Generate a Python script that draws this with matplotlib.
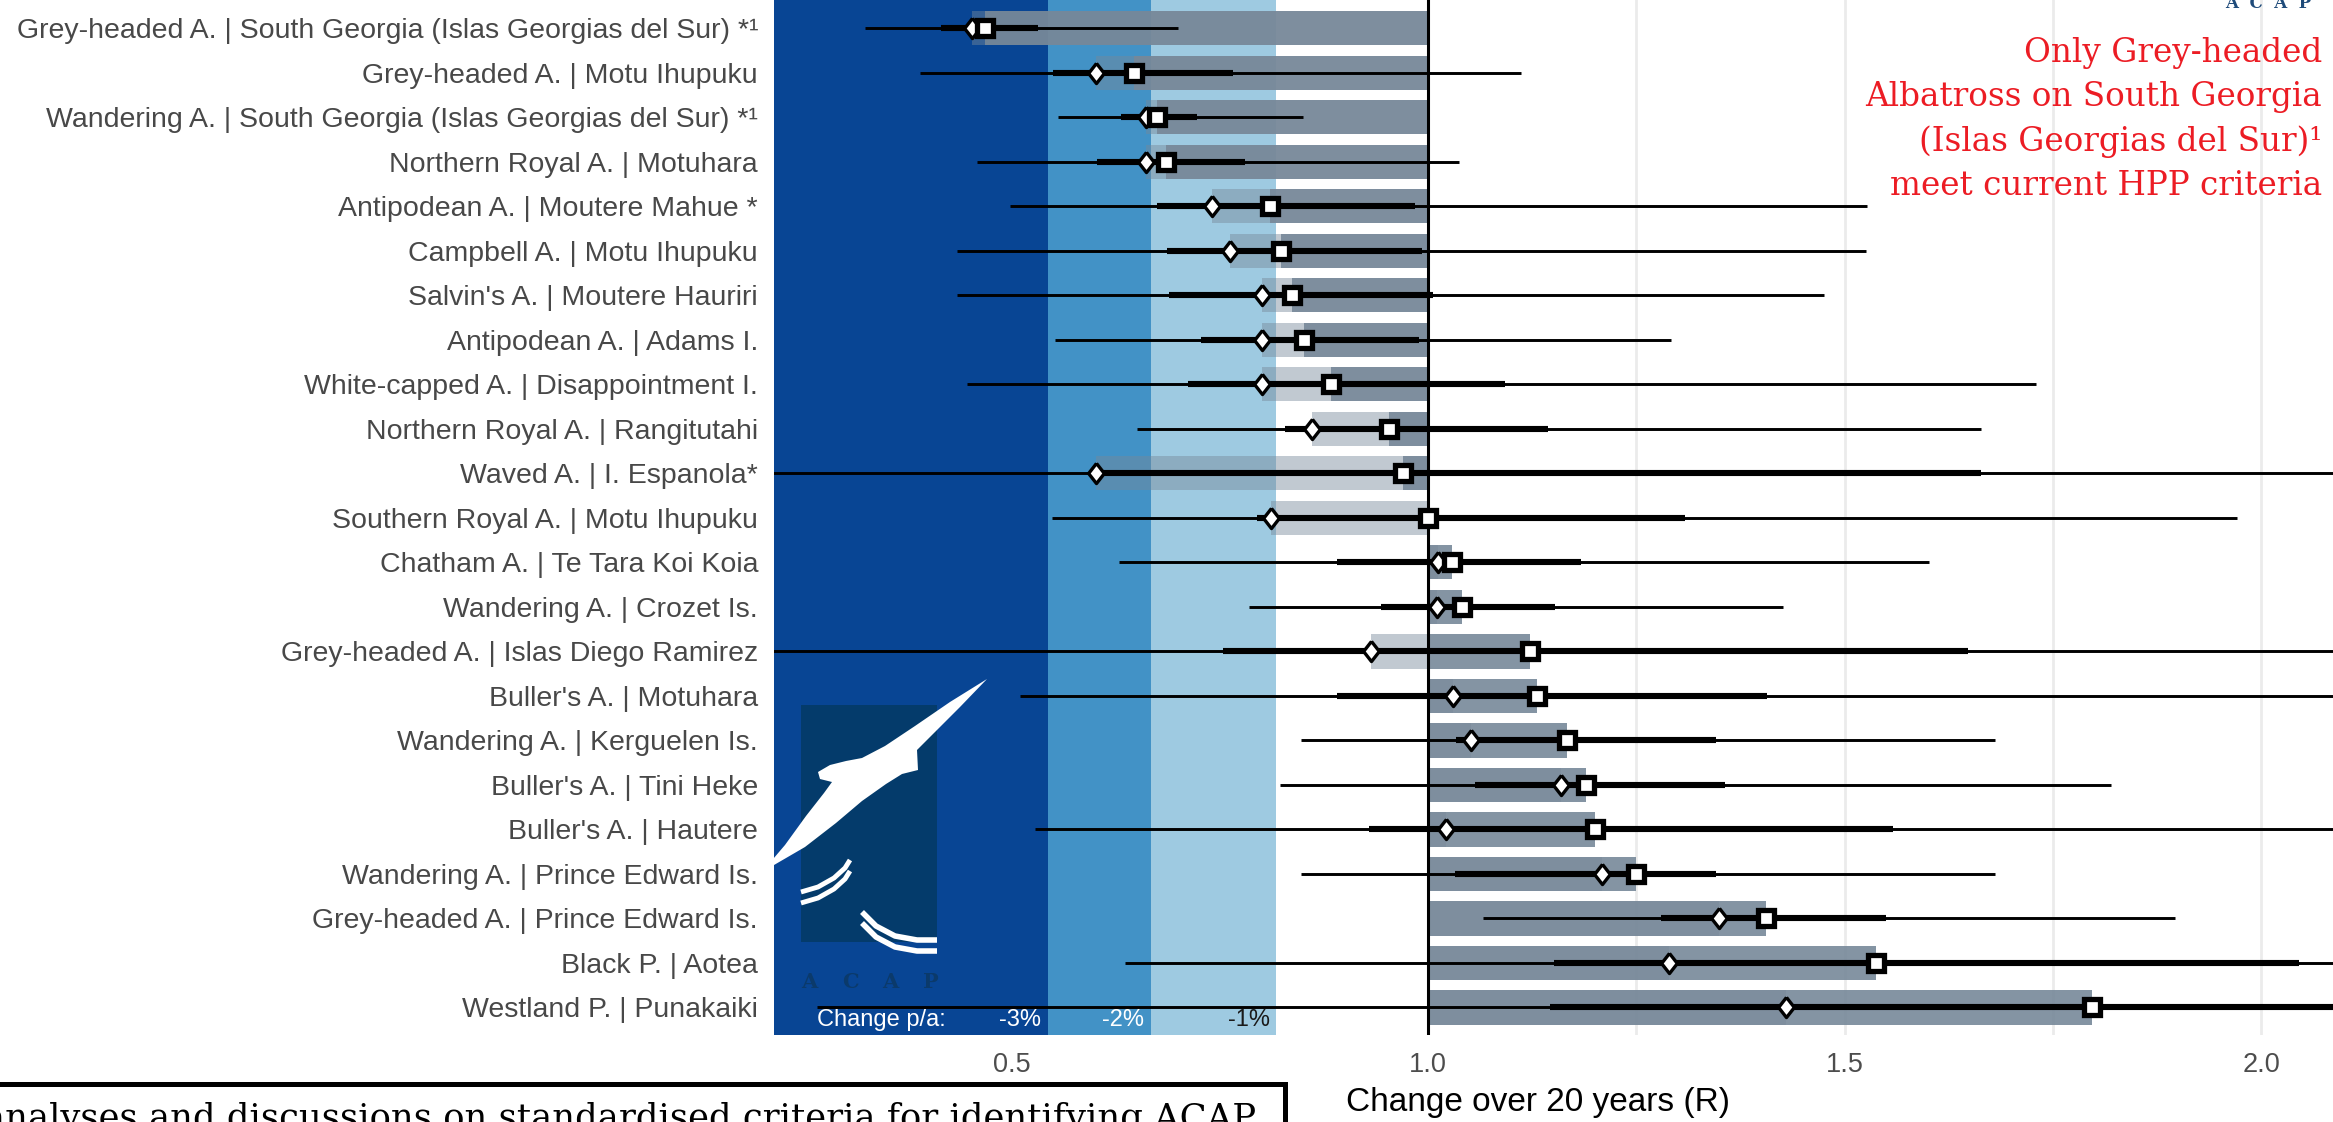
"""
Population trend chart (change over 20 years) for ACAP breeding sites
"""

import matplotlib
matplotlib.use("Agg")
import numpy as np
import matplotlib.pyplot as plt
from matplotlib.patches import Rectangle, Polygon
from matplotlib.transforms import Affine2D

# --- data, top row first ---
labels = [
    "Grey-headed A. | South Georgia (Islas Georgias del Sur) *¹",
    "Grey-headed A. | Motu Ihupuku",
    "Wandering A. | South Georgia (Islas Georgias del Sur) *¹",
    "Northern Royal A. | Motuhara",
    "Antipodean A. | Moutere Mahue *",
    "Campbell A. | Motu Ihupuku",
    "Salvin's A. | Moutere Hauriri",
    "Antipodean A. | Adams I.",
    "White-capped A. | Disappointment I.",
    "Northern Royal A. | Rangitutahi",
    "Waved A. | I. Espanola*",
    "Southern Royal A. | Motu Ihupuku",
    "Chatham A. | Te Tara Koi Koia",
    "Wandering A. | Crozet Is.",
    "Grey-headed A. | Islas Diego Ramirez",
    "Buller's A. | Motuhara",
    "Wandering A. | Kerguelen Is.",
    "Buller's A. | Tini Heke",
    "Buller's A. | Hautere",
    "Wandering A. | Prince Edward Is.",
    "Grey-headed A. | Prince Edward Is.",
    "Black P. | Aotea",
    "Westland P. | Punakaiki",
]

# diamond and square point estimates
diamond = [0.452, 0.601, 0.661, 0.661, 0.740, 0.762, 0.801, 0.801, 0.801, 0.861,
           0.601, 0.811, 1.012, 1.011, 0.931, 1.030, 1.051, 1.159, 1.021, 1.209,
           1.349, 1.289, 1.430]
square = [0.468, 0.647, 0.674, 0.685, 0.810, 0.823, 0.836, 0.851, 0.883, 0.953,
          0.970, 1.000, 1.028, 1.041, 1.122, 1.130, 1.167, 1.190, 1.200, 1.249,
          1.405, 1.537, 1.797]

# thin interval (outer) and thick interval (inner)
lo_outer = [0.324, 0.390, 0.556, 0.458, 0.498, 0.435, 0.434, 0.552, 0.447, 0.650,
            0.100, 0.549, 0.629, 0.785, 0.100, 0.510, 0.847, 0.822, 0.528, 0.847,
            1.066, 0.636, 0.267]
hi_outer = [0.700, 1.111, 0.850, 1.037, 1.527, 1.525, 1.475, 1.291, 1.729, 1.663,
            2.300, 1.971, 1.601, 1.426, 2.300, 2.300, 1.680, 1.820, 2.300, 1.680,
            1.896, 2.300, 2.300]
lo_inner = [0.415, 0.550, 0.631, 0.603, 0.675, 0.686, 0.689, 0.727, 0.712, 0.828,
            0.610, 0.794, 0.890, 0.943, 0.754, 0.891, 1.033, 1.056, 0.929, 1.032,
            1.279, 1.151, 1.146]
hi_inner = [0.532, 0.766, 0.723, 0.780, 0.984, 0.993, 1.006, 0.989, 1.092, 1.144,
            1.663, 1.308, 1.183, 1.152, 1.648, 1.407, 1.346, 1.356, 1.558, 1.346,
            1.550, 2.045, 2.300]

# annual change bands
band_rates = [-3, -2, -1]
band_labels = ["-3%", "-2%", "-1%"]
band_colors = ["#084594", "#4292c6", "#9ecae1"]
band_text_colors = ["white", "white", "#1a1a1a"]

x_ticks = [0.5, 1.0, 1.5, 2.0]
x_tick_labels = ["0.5", "1.0", "1.5", "2.0"]

W, H = 2333, 1122
BAR = "#778899"
SANS = "Liberation Sans"
SERIF = "DejaVu Serif"


def main():
    fig = plt.figure(figsize=(W / 100, H / 100), dpi=100)
    ax = fig.add_axes([774 / W, 1 - 1035 / H, (W - 774) / W, 1035 / H])
    pix = Affine2D().scale(1, -1).translate(0, H)  # pixel coords, y down

    n = len(labels)
    rows = np.arange(n)
    xmin, xmax = 0.2148, 2.086
    ax.set_xlim(xmin, xmax)
    ax.set_ylim(n - 0.38, -0.636)

    # bands
    edges = [(1 + r / 100) ** 20 for r in band_rates]
    starts = [xmin - 1] + edges[:-1]
    for s, e, c in zip(starts, edges, band_colors):
        ax.axvspan(s, e, color=c, lw=0, zorder=1)

    # logo in the dark band
    ax.add_patch(Rectangle((801, 705), 136, 237, transform=pix, color="#043b6b",
                           lw=0, zorder=1.5, clip_on=False))
    bird = [(762, 872), (785, 845), (806, 816), (824, 793), (832, 782), (820, 779),
            (818, 772), (830, 765), (846, 761), (862, 758), (885, 746), (915, 726),
            (950, 702), (987, 679), (960, 707), (934, 733), (917, 750), (918, 770),
            (902, 774), (886, 784), (862, 801), (836, 823), (805, 847), (762, 872)]
    ax.add_patch(Polygon(bird, closed=True, transform=pix, color="white", lw=0,
                         zorder=1.6, clip_on=False))
    for dy in (0, 11):
        ax.plot([801, 818, 834, 845, 850], [903 - dy, 898 - dy, 889 - dy, 879 - dy, 871 - dy],
                transform=pix, color="white", lw=3.5, zorder=1.6, solid_capstyle="butt")
        ax.plot([862, 876, 895, 917, 937], [912 + dy, 926 + dy, 936 + dy, 940 + dy, 940 + dy],
                transform=pix, color="white", lw=4, zorder=1.6, solid_capstyle="butt")
    for xl, ch in zip([809, 850, 890, 931], "ACAP"):
        ax.text(xl, 988, ch, transform=pix, ha="center", va="baseline", fontsize=15,
                family=SERIF, weight="bold", color="#0b3a6b", zorder=1.6)

    # bars: to diamond (light) and to square (dark)
    ax.barh(rows, np.array(diamond) - 1, left=1, height=0.77, color=BAR, alpha=0.45,
            lw=0, zorder=2)
    ax.barh(rows, np.array(square) - 1, left=1, height=0.77, color=BAR, alpha=0.9,
            lw=0, zorder=2.1)

    ax.axvline(1.0, color="black", lw=2.2, zorder=3)

    # intervals
    ax.hlines(rows, lo_outer, hi_outer, color="black", lw=2.1, zorder=4)
    ax.hlines(rows, lo_inner, hi_inner, color="black", lw=4.4, zorder=4)

    diamond_marker = [(0, 1), (0.78, 0), (0, -1), (-0.78, 0), (0, 1)]
    ax.plot(diamond, rows, ls="none", marker=diamond_marker, ms=14.5, mfc="white",
            mec="black", mew=2.4, zorder=5)
    ax.plot(square, rows, ls="none", marker="s", ms=11, mfc="white",
            mec="black", mew=3.8, zorder=6)

    # band labels
    trans = ax.get_xaxis_transform()
    ax.text(0.0276, 0.0145, "Change p/a:", transform=ax.transAxes, ha="left",
            va="center", color="white", fontsize=17, family=SANS, zorder=2)
    for e, lab, tc in zip(edges, band_labels, band_text_colors):
        ax.annotate(lab, (e, 0.0145), xycoords=trans, xytext=(-5, 0),
                    textcoords="offset points", ha="right", va="center",
                    color=tc, fontsize=17, family=SANS, zorder=2)

    # axes styling
    ax.set_yticks(rows)
    ax.set_yticklabels(labels, family=SANS)
    ax.set_xticks(x_ticks)
    ax.set_xticklabels(x_tick_labels, family=SANS)
    ax.set_xticks(np.arange(0.25, 2.1, 0.25), minor=True)
    ax.tick_params(axis="y", length=0, pad=11.5, labelsize=20.5, labelcolor="#484848")
    ax.tick_params(axis="x", which="both", length=0, pad=12, labelsize=19.5,
                   labelcolor="#4d4d4d")
    ax.grid(axis="x", which="both", color="#ebebeb", lw=2)
    ax.set_axisbelow(True)
    for s in ax.spines.values():
        s.set_visible(False)

    fig.text(1346 / W, 1 - 1102 / H, "Change over 20 years (R)", ha="left", va="center",
             fontsize=24, family=SANS, color="black")

    # annotation (top right)
    fig.text(2322 / W, 1 - 37 / H,
             "Only Grey-headed\nAlbatross on South Georgia\n(Islas Georgias del Sur)¹\n"
             "meet current HPP criteria",
             ha="right", va="top", multialignment="right", linespacing=1.48,
             fontsize=23.5, family=SERIF, color="#ec1c24")
    fig.text(2268 / W, 1 - 8 / H, "A  C  A  P", ha="center", va="baseline",
             fontsize=12, family=SERIF, weight="bold", color="#1f4b7a")

    # cut-off text box (bottom left)
    fig.add_artist(Rectangle((-10 / W, 1 - 1150 / H), 1295 / W, (1150 - 1084) / H,
                             transform=fig.transFigure, fill=False, ec="black", lw=3.6))
    fig.text(1256 / W, 1 - 1102 / H,
             "analyses and discussions on standardised criteria for identifying ACAP",
             ha="right", va="top", fontsize=25.5, family=SERIF, color="black")

    fig.savefig("out.png", dpi=100)


if __name__ == "__main__":
    main()
